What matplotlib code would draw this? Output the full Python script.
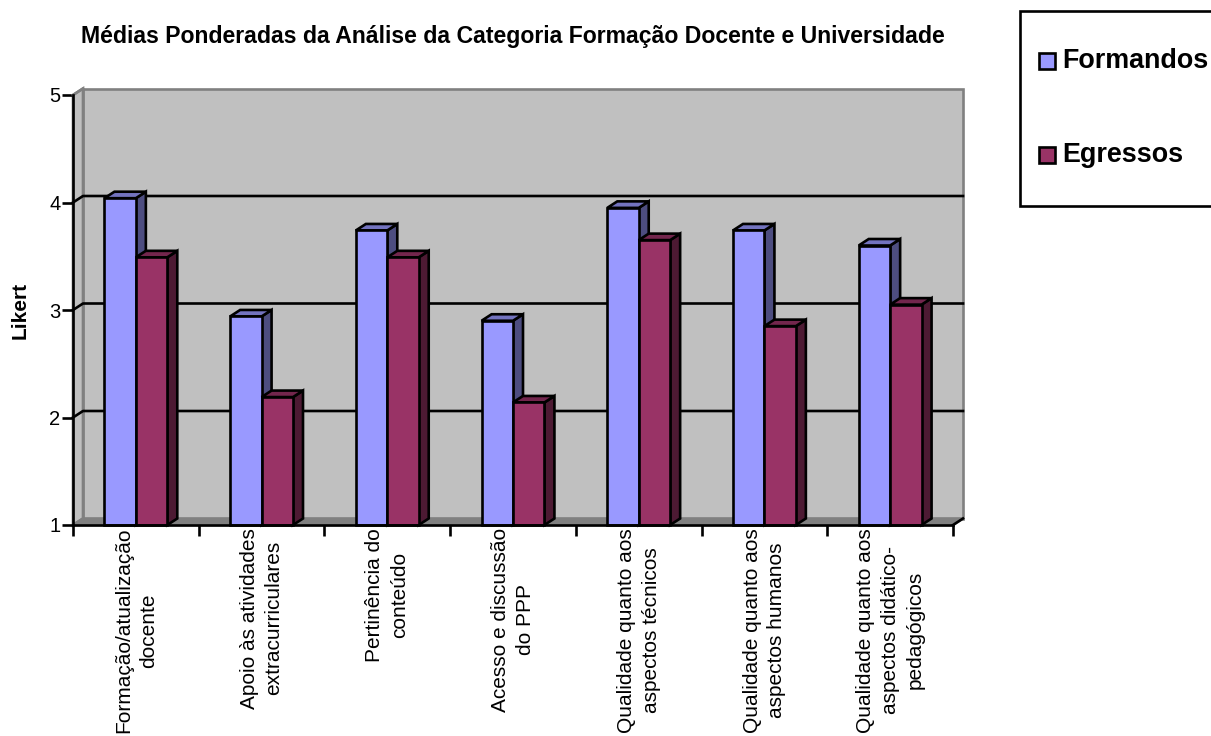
#!/usr/bin/env python
# -*- coding: utf-8 -*-

import numpy as np
import matplotlib
matplotlib.use("Agg")
import matplotlib.pyplot as plt
from matplotlib.patches import Polygon, Rectangle

categorias = ["Formação/atualização\ndocente",
              "Apoio às atividades\nextracurriculares",
              "Pertinência do\nconteúdo",
              "Acesso e discussão\ndo PPP",
              "Qualidade quanto aos\naspectos técnicos",
              "Qualidade quanto aos\naspectos humanos",
              "Qualidade quanto aos\naspectos didático-\npedagógicos"]
formandos = [4.04, 2.94, 3.74, 2.90, 3.95, 3.74, 3.60]
egressos  = [3.49, 2.19, 3.49, 2.14, 3.65, 2.85, 3.05]
yticks    = [1, 2, 3, 4, 5]

plt.rcParams["font.family"] = "Liberation Sans"

W, H = 1211, 736
fig = plt.figure(figsize=(W / 100., H / 100.), dpi=100)
ax  = fig.add_axes([73. / W, (H - 525.) / H, 880. / W, 430. / H])
ax.set_xlim(0, 7)
ax.set_ylim(1, 5)
ax.patch.set_visible(False)

# -- depth of the fake 3d, in data units
dx = 10. / (880. / 7)
dy = 6.5 / (430. / 4)
lw = 1.9

# -- walls and floor
ax.add_patch(Polygon([(dx, 1 + dy), (7 + dx, 1 + dy), (7 + dx, 5 + dy), (dx, 5 + dy)],
                     fc="#C0C0C0", ec="#808080", lw=lw, clip_on=False, zorder=1))
ax.add_patch(Polygon([(0, 1), (dx, 1 + dy), (dx, 5 + dy), (0, 5)],
                     fc="#C0C0C0", ec="#808080", lw=lw, clip_on=False, zorder=1))
ax.add_patch(Polygon([(0, 1), (dx, 1 + dy), (7 + dx, 1 + dy), (7, 1)],
                     fc="#808080", ec="#808080", lw=lw, clip_on=False, zorder=1))

# -- gridlines on the back wall
for yy in yticks[1:-1]:
    ax.plot([0, dx, 7 + dx], [yy, yy + dy, yy + dy], color="black", lw=lw,
            clip_on=False, zorder=2)
ax.plot([0, dx], [5, 5 + dy], color="#808080", lw=lw, clip_on=False, zorder=2)
ax.plot([7, 7 + dx], [1, 1 + dy], color="black", lw=lw, clip_on=False, zorder=2)

# -- the bars, each with a front, a top and a side face
pos   = np.arange(7)
width = 0.25
sets  = [(formandos, 0.25, "#9999FF", "#7373BF", "#4D4D80", "Formandos"),
         (egressos, 0.50, "#993366", "#73264D", "#4D1A33", "Egressos")]
for ii in range(7):
    for vals, off, front, top, side, lab in sets:
        x0 = pos[ii] + off
        x1 = x0 + width
        vv = vals[ii]
        ax.add_patch(Polygon([(x1, 1), (x1 + dx, 1 + dy), (x1 + dx, vv + dy), (x1, vv)],
                             fc=side, ec="black", lw=lw, zorder=3, clip_on=False,
                             joinstyle="miter"))
        ax.add_patch(Polygon([(x0, vv), (x0 + dx, vv + dy), (x1 + dx, vv + dy), (x1, vv)],
                             fc=top, ec="black", lw=lw, zorder=3, clip_on=False,
                             joinstyle="miter"))
        ax.bar(x0, vv - 1, width, bottom=1, align="edge", color=front,
               edgecolor="black", lw=lw, zorder=3, clip_on=False)

# -- axes
for side in ["top", "right"]:
    ax.spines[side].set_visible(False)
for side in ["left", "bottom"]:
    ax.spines[side].set_linewidth(lw)
    ax.spines[side].set_zorder(4)
ax.set_yticks(yticks)
ax.set_xticks(np.arange(8))
ax.set_xticklabels([])
ax.set_xticks(pos + 0.5, minor=True)
ax.set_xticklabels(categorias, minor=True, rotation=90, ha="center", va="top",
                   multialignment="center", fontsize=15, linespacing=1.38)
ax.tick_params(axis="both", which="major", length=8, width=lw, direction="out")
ax.tick_params(axis="y", labelsize=14.5, pad=1)
ax.tick_params(axis="x", which="minor", length=0, pad=2)

ax.set_ylabel("Likert", fontsize=15, fontweight="bold", va="center")
ax.yaxis.set_label_coords(20. / W, (H - 310.) / H, transform=fig.transFigure)

fig.text(512.5 / W, (H - 36.) / H, "Médias Ponderadas da Análise da Categoria Formação Docente e Universidade",
         ha="center", va="center", fontsize=16.6, fontweight="bold")

# -- legend box runs off the right edge
fig.add_artist(Rectangle((1019.5 / W, (H - 206.) / H), 220. / W, 195. / H, fc="white",
                         ec="black", lw=lw, transform=fig.transFigure))
for lab, col, yy in [("Formandos", sets[0][2], 60.5), ("Egressos", sets[1][2], 155)]:
    fig.add_artist(Rectangle((1039. / W, (H - yy - 8.) / H), 16. / W, 16. / H, fc=col,
                             ec="black", lw=lw, transform=fig.transFigure))
    fig.text(1062. / W, (H - yy) / H, lab, ha="left", va="center", fontsize=19.4,
             fontweight="bold")

fig.savefig("out.png", dpi=100)
